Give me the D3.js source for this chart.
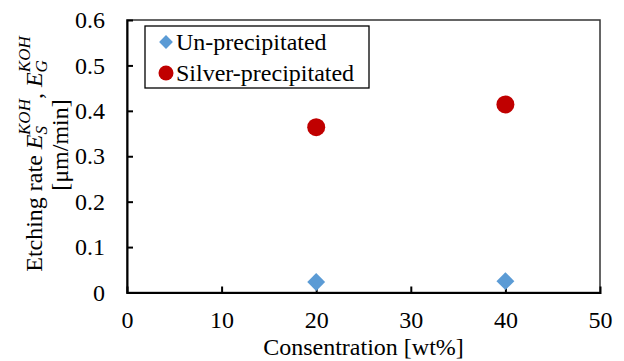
<!DOCTYPE html>
<html>
<head>
<meta charset="utf-8">
<script src="https://cdn.jsdelivr.net/npm/d3@7"></script>
<style>
  body { margin: 0; background: #fff; }
  svg text { font-family: "Liberation Serif", "Times New Roman", serif; fill: #000; }
</style>
</head>
<body>
<svg></svg>
<script>
var concentration = [20, 40];
var unPrecipitated = [0.023, 0.025];
var silverPrecipitated = [0.364, 0.414];
var xTicks = [0, 10, 20, 30, 40, 50];
var yTicks = [0, 0.1, 0.2, 0.3, 0.4, 0.5, 0.6];

var W = 624, H = 361;
var m = { left: 127, right: 24, top: 20, bottom: 68.5 };
var fs = '24px';

var svg = d3.select('svg')
    .attr('width', W)
    .attr('height', H);

var x = d3.scaleLinear().domain([0, 50]).range([m.left, W - m.right]);
var y = d3.scaleLinear().domain([0, 0.6]).range([H - m.bottom, m.top]);

// plot frame (top / right lighter, axes heavier)
svg.append('rect')
    .attr('x', x(0)).attr('y', y(0.6))
    .attr('width', x(50) - x(0)).attr('height', y(0) - y(0.6))
    .attr('fill', 'none').attr('stroke', '#333').attr('stroke-width', 1.5);

var xAxis = svg.append('g')
    .attr('transform', 'translate(0,' + y(0) + ')')
    .call(d3.axisBottom(x).tickValues(xTicks).tickSize(-6).tickPadding(18).tickFormat(d3.format('d')));
var yAxis = svg.append('g')
    .attr('transform', 'translate(' + x(0) + ',0)')
    .call(d3.axisLeft(y).tickValues(yTicks).tickSize(-6).tickPadding(22)
        .tickFormat(function (d) { return d === 0 ? '0' : d3.format('.1f')(d); }));

[xAxis, yAxis].forEach(function (a) {
    a.attr('font-family', null).attr('font-size', null);
    a.select('.domain').attr('stroke', '#000').attr('stroke-width', 2);
    a.selectAll('.tick line').attr('stroke', '#000').attr('stroke-width', 2);
    a.selectAll('.tick text').style('font-size', fs);
});
xAxis.selectAll('.tick').filter(function (d) { return d === 0 || d === 50; }).select('line').remove();
yAxis.selectAll('.tick').filter(function (d) { return d === 0 || d === 0.6; }).select('line').remove();

// series
svg.append('g').selectAll('path')
    .data(concentration)
    .enter().append('path')
    .attr('d', d3.symbol().type(d3.symbolSquare).size(160))
    .attr('transform', function (d, i) { return 'translate(' + x(d) + ',' + y(unPrecipitated[i]) + ') rotate(45)'; })
    .attr('fill', '#5b9bd5');

svg.append('g').selectAll('circle')
    .data(concentration)
    .enter().append('circle')
    .attr('cx', function (d) { return x(d); })
    .attr('cy', function (d, i) { return y(silverPrecipitated[i]); })
    .attr('r', 9)
    .attr('fill', '#c00000');

// legend
var lg = svg.append('g');
lg.append('rect')
    .attr('x', 145).attr('y', 26).attr('width', 224).attr('height', 62)
    .attr('fill', '#fff').attr('stroke', '#000').attr('stroke-width', 1.3);
lg.append('path')
    .attr('d', d3.symbol().type(d3.symbolSquare).size(95))
    .attr('transform', 'translate(166,42) rotate(45)')
    .attr('fill', '#5b9bd5');
lg.append('circle').attr('cx', 166).attr('cy', 73).attr('r', 7.5).attr('fill', '#c00000');
lg.append('text').attr('x', 176).attr('y', 50).style('font-size', fs).text('Un-precipitated');
lg.append('text').attr('x', 176).attr('y', 81).style('font-size', fs).text('Silver-precipitated');

// axis titles
svg.append('text')
    .attr('x', (x(0) + x(50)) / 2).attr('y', 355)
    .attr('text-anchor', 'middle').style('font-size', fs)
    .text('Consentration [wt%]');

var yt = svg.append('text')
    .attr('transform', 'translate(42,154) rotate(-90)')
    .attr('text-anchor', 'middle').style('font-size', fs);
yt.append('tspan').text('Etching rate ');
yt.append('tspan').style('font-style', 'italic').text('E');
yt.append('tspan').style('font-style', 'italic').style('font-size', '17px').attr('dy', 5).text('S');
yt.append('tspan').style('font-style', 'italic').style('font-size', '17px').attr('dy', -17).attr('dx', -9).text('KOH');
yt.append('tspan').attr('dy', 12).text(', ');
yt.append('tspan').style('font-style', 'italic').text('E');
yt.append('tspan').style('font-style', 'italic').style('font-size', '17px').attr('dy', 5).text('G');
yt.append('tspan').style('font-style', 'italic').style('font-size', '17px').attr('dy', -17).attr('dx', -12).text('KOH');

svg.append('text')
    .attr('transform', 'translate(68,145) rotate(-90)')
    .attr('text-anchor', 'middle').style('font-size', fs)
    .text('[\u03bcm/min]');
</script>
</body>
</html>
